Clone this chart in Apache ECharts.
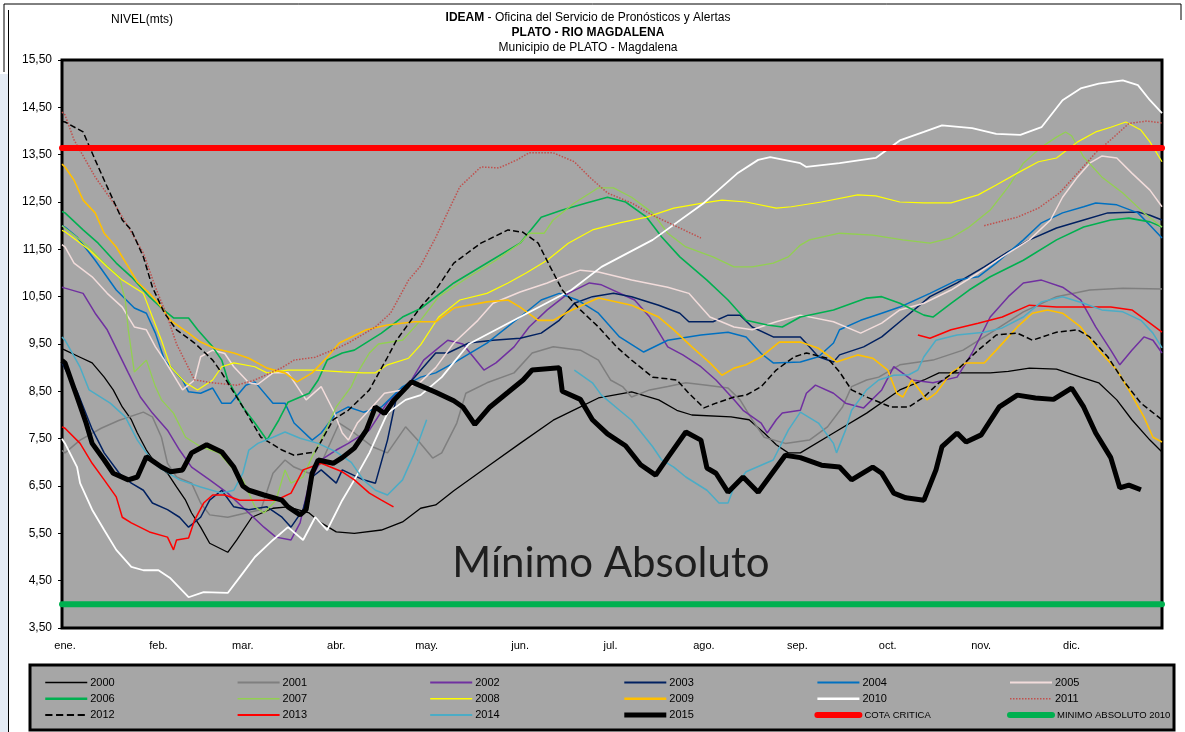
<!DOCTYPE html>
<html><head><meta charset="utf-8">
<script src="https://cdn.jsdelivr.net/npm/echarts@6/dist/echarts.min.js"></script>
<style>html,body{margin:0;padding:0;background:#fff}#c{width:1185px;height:732px}</style>
</head><body><div id="c"></div>
<script>
const months = ['ene.','feb.','mar.','abr.','may.','jun.','jul.','ago.','sep.','oct.','nov.','dic.'];
const monthStart = [0,31,59,90,120,151,181,212,243,273,304,334];
const yTicks = [3.5,4.5,5.5,6.5,7.5,8.5,9.5,10.5,11.5,12.5,13.5,14.5,15.5];

const y2000 = [[0,9.4],[1,9.37],[6,9.22],[10,9.1],[14,8.8],[17,8.53],[20,8.17],[23,7.9],[25,7.62],[28,7.26],[31,6.98],[35,6.77],[38,6.48],[41,6.2],[43,5.93],[46,5.63],[49,5.29],[55,5.1],[58,5.36],[63,5.84],[70,6.03],[75,6.06],[82,5.93],[86,5.72],[91,5.53],[97,5.5],[106,5.57],[113,5.74],[119,6.03],[124,6.1],[130,6.4],[141,6.9],[152,7.4],[163,7.89],[172,8.17],[178,8.36],[189,8.49],[198,8.32],[204,8.1],[209,8.0],[222,7.96],[228,7.9],[233,7.62],[237,7.37],[241,7.2],[245,7.2],[256,7.62],[267,8.04],[278,8.53],[286,8.74],[291,8.89],[299,8.89],[308,8.89],[314,8.92],[321,8.99],[330,8.97],[338,8.8],[344,8.68],[350,8.32],[355,7.9],[361,7.47],[365,7.22]];
const y2001 = [[0,7.25],[1,7.2],[6,7.47],[13,7.72],[19,7.89],[27,8.06],[30,7.96],[33,7.53],[35,6.98],[38,6.69],[43,6.56],[46,6.14],[49,5.89],[55,5.84],[61,5.93],[66,6.0],[70,6.77],[74,7.05],[77,6.9],[82,6.77],[86,6.98],[92,7.83],[97,7.62],[103,7.33],[108,7.2],[114,7.75],[118,7.47],[123,7.09],[126,7.2],[131,7.83],[134,8.46],[141,8.68],[150,8.89],[156,9.31],[163,9.44],[172,9.37],[178,9.16],[182,8.74],[186,8.6],[189,8.38],[195,8.53],[201,8.6],[207,8.68],[214,8.63],[221,8.57],[225,8.32],[229,7.9],[233,7.53],[240,7.4],[248,7.47],[254,7.75],[259,8.17],[262,8.6],[267,8.74],[271,8.8],[278,9.06],[289,9.16],[299,9.37],[308,9.73],[319,10.18],[330,10.5],[341,10.64],[352,10.68],[365,10.66]];
const y2002 = [[0,10.7],[1,10.68],[7,10.57],[11,10.15],[15,9.8],[22,8.89],[26,8.38],[30,8.04],[35,7.68],[39,7.26],[43,6.9],[49,6.63],[55,6.35],[62,5.93],[67,5.63],[71,5.42],[76,5.36],[79,5.72],[82,6.56],[86,7.05],[91,7.26],[95,7.4],[102,7.68],[108,8.27],[116,8.74],[120,9.16],[124,9.37],[128,9.58],[133,9.5],[140,8.95],[144,9.1],[150,9.44],[155,9.86],[161,10.22],[168,10.57],[175,10.79],[179,10.75],[190,10.43],[195,10.07],[201,9.44],[206,9.27],[212,9.02],[217,8.74],[223,8.32],[226,8.1],[232,7.83],[234,7.62],[237,7.9],[239,8.04],[245,8.1],[247,8.46],[250,8.63],[256,8.46],[260,8.25],[266,8.15],[272,8.53],[276,9.02],[282,8.74],[289,8.68],[297,8.8],[302,9.31],[308,10.07],[314,10.5],[319,10.79],[325,10.85],[332,10.7],[338,10.43],[343,9.86],[348,9.37],[351,9.06],[355,9.37],[359,9.65],[362,9.58],[365,9.31]];
const y2003 = [[0,9.1],[5,8.5],[10,7.7],[14,7.2],[19,6.77],[23,6.56],[27,6.41],[30,6.14],[35,6.0],[39,5.84],[42,5.63],[46,5.84],[49,6.2],[53,6.41],[57,6.06],[62,6.0],[68,6.06],[73,5.84],[76,5.63],[80,6.0],[83,6.69],[86,6.84],[91,6.56],[93,6.84],[100,6.63],[104,6.56],[108,7.47],[111,8.38],[117,8.8],[124,9.31],[128,9.31],[135,9.52],[143,9.58],[152,9.62],[159,9.73],[165,10.0],[170,10.36],[176,10.5],[183,10.57],[189,10.5],[198,10.32],[205,10.15],[208,9.97],[216,9.97],[221,10.11],[225,10.11],[229,9.86],[236,9.65],[245,9.65],[248,9.44],[251,9.23],[256,9.12],[258,9.27],[266,9.44],[272,9.65],[278,9.97],[288,10.5],[297,10.79],[306,11.13],[314,11.45],[321,11.7],[330,11.95],[339,12.12],[347,12.27],[357,12.29],[361,12.22],[365,12.12]];
const y2004 = [[0,12.0],[1,11.97],[5,11.76],[11,11.27],[18,10.64],[24,10.26],[28,10.15],[31,9.73],[34,9.16],[40,8.74],[42,8.49],[46,8.46],[50,8.57],[53,8.25],[56,8.25],[61,8.63],[64,8.7],[70,8.25],[74,8.25],[77,7.83],[83,7.47],[86,7.62],[91,8.04],[95,8.17],[100,8.06],[106,8.17],[113,8.6],[119,8.8],[124,8.89],[130,9.1],[141,9.52],[152,10.07],[159,10.43],[165,10.57],[171,10.43],[178,10.15],[185,9.65],[193,9.33],[201,9.58],[212,9.69],[221,9.75],[227,9.65],[232,9.3],[236,9.1],[245,9.12],[251,9.23],[256,9.52],[258,9.8],[265,10.0],[272,10.15],[278,10.28],[288,10.57],[297,10.85],[304,10.92],[310,11.21],[319,11.7],[325,12.06],[332,12.27],[339,12.4],[343,12.48],[350,12.44],[357,12.27],[361,12.01],[365,11.74]];
const y2005 = [[0,11.6],[1,11.55],[4,11.21],[10,10.92],[15,10.57],[20,10.28],[24,9.86],[28,9.8],[31,9.44],[34,9.16],[40,8.53],[44,8.74],[46,9.23],[50,9.37],[54,9.3],[57,9.02],[62,8.68],[65,8.65],[70,8.89],[75,8.89],[81,8.32],[86,8.6],[90,8.1],[93,7.62],[95,7.47],[98,7.83],[104,8.25],[107,8.46],[113,8.53],[119,8.7],[124,9.0],[130,9.52],[138,10.0],[143,10.36],[152,10.6],[161,10.79],[166,10.92],[172,11.06],[178,11.02],[189,10.85],[201,10.7],[208,10.57],[215,10.07],[223,9.86],[229,9.8],[237,9.97],[245,10.11],[256,9.97],[265,9.73],[272,9.94],[278,10.22],[286,10.36],[295,10.64],[304,11.0],[312,11.34],[321,11.7],[328,12.12],[332,12.6],[337,13.03],[341,13.32],[345,13.47],[350,13.43],[355,13.11],[361,12.75],[365,12.4]];
const y2006 = [[0,12.3],[1,12.27],[7,11.91],[12,11.63],[18,11.21],[23,10.92],[29,10.5],[33,10.26],[37,10.05],[42,10.05],[45,9.8],[50,9.44],[53,9.16],[55,8.74],[60,8.17],[64,7.83],[68,7.47],[72,7.9],[75,8.27],[82,8.46],[85,8.74],[88,9.16],[93,9.31],[97,9.37],[106,9.73],[113,10.07],[119,10.25],[130,10.79],[141,11.21],[152,11.63],[159,12.18],[166,12.33],[174,12.48],[181,12.6],[187,12.5],[194,12.18],[199,11.76],[205,11.34],[214,10.85],[221,10.43],[227,10.0],[234,9.9],[239,9.86],[245,10.07],[256,10.22],[267,10.47],[272,10.5],[278,10.36],[286,10.11],[289,10.07],[295,10.36],[301,10.64],[308,10.92],[319,11.27],[330,11.7],[339,11.97],[348,12.12],[354,12.16],[361,12.08],[365,11.97]];
const y2007 = [[0,12.0],[1,11.95],[9,11.55],[14,11.21],[19,10.92],[21,10.43],[22,9.8],[24,8.91],[28,9.16],[31,8.6],[33,8.32],[37,8.04],[41,7.53],[46,7.33],[52,7.2],[57,6.84],[60,6.63],[64,6.06],[67,5.93],[71,6.2],[74,6.84],[76,6.56],[80,6.69],[83,7.12],[86,7.47],[91,8.17],[96,8.6],[98,8.89],[102,9.31],[105,9.5],[113,9.58],[119,10.0],[125,10.5],[135,10.92],[144,11.27],[152,11.63],[155,11.84],[160,11.84],[163,12.12],[170,12.48],[178,12.8],[183,12.8],[189,12.6],[196,12.27],[201,11.84],[207,11.55],[216,11.34],[223,11.13],[229,11.13],[236,11.21],[241,11.34],[245,11.59],[248,11.7],[258,11.84],[269,11.8],[279,11.7],[288,11.63],[295,11.74],[301,11.97],[308,12.33],[314,12.82],[319,13.32],[325,13.66],[330,13.87],[333,13.98],[335,13.9],[339,13.45],[345,13.03],[352,12.69],[359,12.27],[365,11.97]];
const y2008 = [[0,11.9],[1,11.87],[9,11.49],[15,11.13],[20,10.85],[27,10.57],[30,10.07],[33,9.58],[36,9.02],[41,8.68],[45,8.53],[50,8.74],[53,9.02],[57,9.1],[64,9.02],[68,8.89],[75,8.95],[84,8.95],[93,8.91],[100,8.89],[104,8.89],[108,9.06],[115,9.2],[119,9.48],[125,10.07],[132,10.43],[141,10.57],[148,10.79],[154,11.0],[161,11.27],[168,11.63],[176,11.91],[185,12.06],[194,12.18],[203,12.37],[213,12.48],[219,12.54],[227,12.5],[237,12.37],[242,12.4],[252,12.5],[264,12.65],[270,12.63],[278,12.5],[286,12.48],[295,12.48],[304,12.65],[310,12.86],[317,13.11],[324,13.35],[330,13.43],[337,13.77],[343,13.98],[348,14.08],[353,14.19],[358,14.02],[361,13.77],[365,13.35]];
const y2009 = [[0,13.3],[1,13.24],[4,12.96],[7,12.54],[11,12.27],[14,11.84],[18,11.55],[22,11.13],[25,10.81],[29,10.57],[32,10.36],[36,10.0],[42,9.73],[46,9.54],[51,9.4],[57,9.31],[62,9.2],[68,8.99],[74,8.89],[78,8.7],[83,8.89],[88,9.22],[92,9.52],[101,9.8],[108,9.9],[117,9.97],[124,9.97],[130,10.26],[141,10.39],[148,10.43],[152,10.28],[158,10.0],[163,10.0],[168,10.18],[174,10.36],[178,10.47],[189,10.32],[198,10.07],[203,9.8],[209,9.44],[215,9.1],[219,8.84],[223,8.99],[227,9.06],[232,9.23],[238,9.54],[245,9.54],[251,9.41],[257,9.12],[264,9.27],[269,9.2],[274,8.95],[277,8.46],[279,8.38],[282,8.74],[287,8.32],[290,8.46],[295,8.89],[300,9.1],[306,9.1],[311,9.44],[317,9.86],[322,10.15],[327,10.22],[332,10.15],[338,9.86],[343,9.44],[350,8.95],[354,8.53],[359,7.96],[362,7.53],[365,7.43]];
const y2010 = [[0,7.5],[1,7.4],[5,6.9],[6,6.56],[10,6.0],[14,5.57],[18,5.15],[23,4.79],[27,4.72],[32,4.72],[36,4.55],[42,4.15],[47,4.26],[55,4.24],[60,4.66],[64,5.0],[70,5.36],[75,5.63],[80,5.36],[84,5.84],[88,5.57],[93,6.2],[97,6.63],[102,7.2],[105,7.62],[108,8.04],[114,8.32],[119,8.42],[126,8.8],[135,9.5],[152,10.07],[169,10.64],[179,11.13],[196,11.7],[213,12.48],[224,13.1],[231,13.39],[235,13.45],[245,13.32],[247,13.24],[258,13.32],[270,13.43],[278,13.8],[286,13.98],[292,14.12],[302,14.06],[310,13.94],[318,13.92],[325,14.08],[332,14.65],[338,14.9],[344,15.0],[352,15.07],[357,14.97],[361,14.65],[365,14.38]];
const y2011 = [[0,14.4],[1,14.34],[4,13.81],[11,13.03],[18,12.4],[22,11.97],[27,11.42],[31,10.7],[35,10.07],[38,9.5],[44,8.74],[50,8.68],[58,8.63],[64,8.74],[73,9.0],[77,9.16],[84,9.22],[92,9.43],[95,9.52],[104,9.86],[109,10.15],[115,10.85],[119,11.15],[124,11.75],[132,12.82],[139,13.24],[145,13.22],[151,13.39],[155,13.54],[163,13.54],[170,13.35],[175,13.03],[181,12.69],[189,12.48],[196,12.22],[205,11.95],[212,11.74],[260,null],[306,12.0],[317,12.18],[324,12.37],[331,12.69],[337,13.11],[343,13.54],[349,13.87],[354,14.16],[360,14.21],[365,14.17]];
const y2012 = [[0,14.2],[1,14.19],[7,13.98],[11,13.39],[15,12.82],[20,12.12],[23,11.91],[27,11.34],[30,10.7],[34,10.15],[38,9.8],[44,9.52],[50,9.16],[53,8.89],[60,8.17],[66,7.53],[73,7.26],[77,7.15],[84,7.22],[90,7.9],[95,8.1],[102,8.53],[108,9.22],[111,9.58],[119,10.28],[124,10.64],[130,11.21],[139,11.63],[148,11.91],[153,11.86],[158,11.63],[162,11.13],[166,10.64],[172,10.22],[178,9.86],[184,9.44],[189,9.16],[196,8.8],[204,8.74],[208,8.46],[213,8.15],[217,8.25],[223,8.38],[227,8.42],[232,8.6],[237,8.95],[243,9.23],[247,9.31],[254,9.2],[258,8.91],[262,8.53],[267,8.38],[275,8.17],[281,8.17],[286,8.38],[291,8.68],[297,8.95],[304,9.37],[310,9.69],[317,9.73],[322,9.58],[330,9.75],[337,9.8],[341,9.65],[347,9.23],[352,8.74],[358,8.25],[365,7.9]];
const y2013 = [[0,7.75],[1,7.72],[6,7.4],[10,6.98],[14,6.63],[18,6.27],[20,5.84],[23,5.72],[29,5.53],[35,5.42],[37,5.15],[38,5.36],[42,5.4],[44,5.78],[47,6.14],[50,6.31],[54,6.31],[59,6.2],[62,6.2],[66,6.2],[71,6.2],[76,6.35],[80,6.84],[86,6.98],[93,6.8],[97,6.63],[102,6.35],[106,6.2],[110,6.06],[200,null],[284,9.69],[288,9.62],[295,9.8],[304,9.94],[312,10.07],[321,10.32],[330,10.28],[341,10.28],[348,10.28],[355,10.22],[361,9.94],[365,9.75]];
const y2014 = [[0,9.65],[1,9.58],[6,9.01],[9,8.53],[16,8.25],[21,7.96],[25,7.47],[28,7.2],[32,6.9],[39,6.63],[46,6.48],[53,6.35],[57,6.41],[60,6.77],[62,7.26],[65,7.4],[70,7.53],[74,7.64],[79,7.51],[85,7.4],[91,7.22],[96,7.0],[100,6.63],[104,6.41],[108,6.31],[113,6.63],[117,7.2],[121,7.9],[140,null],[170,8.95],[176,8.68],[179,8.42],[185,8.1],[189,7.89],[196,7.33],[199,7.05],[203,6.9],[207,6.69],[214,6.41],[218,6.14],[221,6.14],[223,6.48],[227,6.8],[236,7.05],[241,7.68],[245,8.06],[251,7.83],[256,7.4],[257,7.2],[260,7.68],[262,8.1],[267,8.53],[271,8.74],[276,8.84],[281,8.85],[284,8.95],[286,9.23],[290,9.58],[297,9.69],[306,9.75],[312,9.84],[319,10.07],[325,10.39],[332,10.5],[339,10.36],[345,10.22],[352,10.18],[358,10.0],[362,9.73],[365,9.42]];
const y2015 = [[0,9.15],[1,9.1],[5,8.38],[8,7.83],[10,7.4],[14,7.05],[17,6.77],[22,6.63],[25,6.69],[28,7.12],[33,6.9],[36,6.8],[40,6.84],[43,7.2],[48,7.37],[53,7.22],[57,6.9],[60,6.5],[62,6.41],[67,6.31],[73,6.2],[75,6.06],[79,5.89],[81,6.0],[83,6.77],[85,7.05],[90,6.98],[93,7.1],[97,7.3],[101,7.68],[104,8.17],[107,8.03],[110,8.3],[116,8.7],[124,8.48],[130,8.3],[133,8.17],[137,7.8],[142,8.17],[148,8.48],[153,8.74],[156,8.95],[165,9.0],[166,8.5],[172,8.33],[176,7.9],[181,7.6],[187,7.35],[192,6.95],[197,6.73],[201,7.1],[207,7.64],[212,7.47],[214,6.88],[217,6.77],[221,6.37],[226,6.69],[231,6.37],[240,7.15],[245,7.1],[252,6.94],[258,6.9],[262,6.63],[269,6.9],[272,6.77],[276,6.35],[280,6.25],[286,6.2],[290,6.84],[292,7.33],[297,7.62],[300,7.43],[305,7.58],[311,8.17],[317,8.42],[323,8.36],[329,8.33],[335,8.57],[339,8.17],[343,7.62],[348,7.1],[351,6.46],[354,6.52],[358,6.42]];
const cotaCritica = [[0,13.64],[365,13.64]];
const minimoAbs = [[0,4.0],[365,4.0]];

const seriesNames = ['2000','2001','2002','2003','2004','2005','2006','2007','2008','2009','2010','2011','2012','2013','2014','2015','COTA CRITICA','MINIMO ABSOLUTO 2010'];
const seriesData = [y2000,y2001,y2002,y2003,y2004,y2005,y2006,y2007,y2008,y2009,y2010,y2011,y2012,y2013,y2014,y2015,cotaCritica,minimoAbs];
const colors = ['#000000','#7F7F7F','#7030A0','#002060','#0070C0','#F2DCDB','#00B050','#92D050','#FFFF00','#FFC000','#FFFFFF','#C0504D','#000000','#FF0000','#4BACC6','#000000','#FF0000','#00B050'];
const widths = [1.3,1.5,1.5,1.5,1.5,1.5,1.6,1.3,1.2,1.6,1.8,1.5,1.5,1.5,1.5,5,6,6];
const legendWidths = [1.5,2,2,2,2,2,2.5,1.5,1.5,2.5,2.5,1.5,1.8,2,2,5,6,6];
const types = ['solid','solid','solid','solid','solid','solid','solid','solid','solid','solid','solid','dotted','dashed','solid','solid','solid','solid','solid'];

const F = "'Liberation Sans Narrow','Liberation Sans',Arial,sans-serif";

const series = seriesNames.map((n,i)=>({
  name:n, type:'line', data:seriesData[i], showSymbol:false, symbol:'none',
  connectNulls:false, animation:false, z: i>=15 ? 3 : 2,
  lineStyle:{color:colors[i], width:widths[i], type:types[i], cap: i>=16?'round':'butt'},
  itemStyle:{color:colors[i]}
}));

const legends = [];
for (let c=0;c<6;c++){
  const idx = [c, c+6, c+12];
  legends.push({
    orient:'vertical', left:39 + c*192.6, top:672, itemWidth:42, itemHeight:14, itemGap:5,
    itemStyle:{opacity:0},
    data: idx.map(i=>({
      name:seriesNames[i],
      itemStyle:{opacity:0},
      lineStyle:{width:legendWidths[i], type:types[i], color:colors[i], cap: i>=16?'round':'butt'},
      textStyle: i>=16 ? {fontSize:9.5, padding:[0,0,0,0]} : {}
    })),
    textStyle:{fontFamily:F, fontSize:11, color:'#000', padding:[0,0,0,-2]},
    selectedMode:false
  });
}

const chart = echarts.init(document.getElementById('c'), null, {renderer:'canvas'});
chart.setOption({
  backgroundColor:'#ffffff',
  animation:false,
  title:{
    text:'{b|IDEAM} - Oficina del Servicio de Pronósticos y Alertas\n{b|PLATO - RIO MAGDALENA}\nMunicipio de PLATO - Magdalena',
    left:583, top:5, textAlign:'center',
    textStyle:{fontFamily:F, fontSize:12, fontWeight:'normal', color:'#000', lineHeight:15,
      rich:{b:{fontFamily:F, fontSize:12, fontWeight:'bold', color:'#000', lineHeight:15}}}
  },
  grid:{left:62, right:23, top:60, bottom:104, show:true, backgroundColor:'#A6A6A6', borderColor:'#000', borderWidth:3, containLabel:false},
  xAxis:{
    type:'value', min:0, max:365,
    axisLine:{show:false}, splitLine:{show:false},
    axisTick:{show:false, customValues:monthStart},
    axisLabel:{customValues:monthStart, margin:12, padding:[0,0,0,6], fontFamily:F, fontSize:11, color:'#000',
      formatter:(v)=>{const k=monthStart.indexOf(Math.round(v)); return k>=0?months[k]:'';}}
  },
  yAxis:{
    type:'value', min:3.5, max:15.5,
    axisLine:{show:false}, splitLine:{show:false},
    axisTick:{show:true, inside:false, length:4, customValues:yTicks, lineStyle:{color:'#000', width:1}},
    axisLabel:{customValues:yTicks, margin:10, fontFamily:F, fontSize:12, color:'#000',
      formatter:(v)=>v.toFixed(2).replace('.',',')}
  },
  legend:legends,
  graphic:[
    {type:'rect', z:-10, shape:{x:0,y:74,width:8,height:658}, style:{fill:'#E4EBF4'}},
    {type:'polyline', z:10, shape:{points:[[4,72],[4,4],[1181,4],[1181,20]]}, style:{stroke:'#000', lineWidth:1, fill:null}},
    {type:'line', z:10, shape:{x1:8.5,y1:10,x2:8.5,y2:732}, style:{stroke:'#000', lineWidth:1}},
    {type:'rect', z:-1, shape:{x:30,y:665,width:1144,height:65}, style:{fill:'#A6A6A6', stroke:'#000', lineWidth:3}},
    {type:'text', z:10, left:111, top:14, style:{text:'NIVEL(mts)', font:"12px "+F, fill:'#000'}},
    {type:'text', z:10, x:611, y:563, style:{text:'Mínimo Absoluto', font:"42px Lato, 'Open Sans', sans-serif", fill:'#1E1E1E', textAlign:'center', textVerticalAlign:'middle'}}
  ],
  series:series
});
</script></body></html>
